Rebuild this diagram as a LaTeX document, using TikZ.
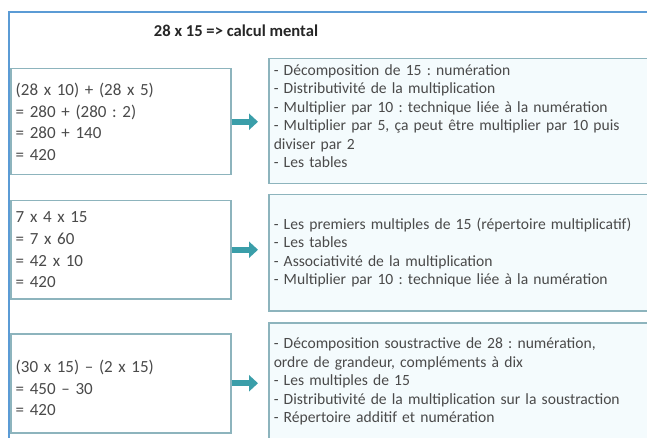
\documentclass[tikz,border=0pt]{standalone}
\usepackage{fontspec}
\setmainfont{Carlito}
\usetikzlibrary{arrows.meta}
\definecolor{frameblue}{HTML}{5B9BD5}
\definecolor{boxline}{HTML}{8DB4BD}
\definecolor{boxfill}{HTML}{F4FBFD}
\definecolor{arrowteal}{HTML}{3A9EA9}
\definecolor{txt}{HTML}{4A4A4A}
\frenchspacing
\tikzset{
  calcbox/.style={draw=boxline,line width=1.5pt,fill=white,anchor=north west,
    minimum width=220pt,text width=210pt,align=left,inner xsep=4pt,
    font=\fontsize{17}{21.7}\selectfont,text=txt},
  skillbox/.style={draw=boxline,line width=1.5pt,fill=boxfill,anchor=north west,
    minimum width=400pt,text width=390pt,align=left,inner xsep=4pt,
    font=\fontsize{15.6}{18.5}\selectfont,text=txt},
  fatarrow/.style={arrowteal,line width=6pt,shorten >=10pt,
    -{Triangle[length=9pt,width=16pt]}}
}
\begin{document}
\begin{tikzpicture}[x=1pt,y=-1pt]
\useasboundingbox (0,0) rectangle (647,438);
\draw[frameblue,line width=1.5pt] (9,440)--(9,12)--(650,12);
\node[font=\bfseries\fontsize{16.6}{19}\selectfont,text=black!85] (title) at (236,31) {28 x 15 => calcul mental};
% calculs
\node[calcbox,minimum height=106pt] (l1) at (10,68) {(28 x 10) + (28 x 5)\\= 280 + (280 : 2)\\= 280 + 140\\= 420};
\node[calcbox,minimum height=98pt] (l2) at (10,200) {7 x 4 x 15\\= 7 x 60\\= 42 x 10\\= 420};
\node[calcbox,minimum height=99pt] (l3) at (10,333) {\mbox{}\\(30 x 15) -- (2 x 15)\\= 450 -- 30\\= 420};
% competences
\node[skillbox,minimum height=125pt] (r1) at (268,58) {- Décomposition de 15 : numération\\- Distributivité de la multiplication\\- Multiplier par 10 : technique liée à la numération\\- Multiplier par 5, ça peut être multiplier par 10 puis\\diviser par 2\\- Les tables\\[-8pt]\mbox{}};
\node[skillbox,minimum height=116pt] (r2) at (268,194) {- Les premiers multiples de 15 (répertoire multiplicatif)\\- Les tables\\- Associativité de la multiplication\\- Multiplier par 10 : technique liée à la numération};
\node[skillbox,minimum height=118pt] (r3) at (268,322) {- Décomposition soustractive de 28 : numération,\\ordre de grandeur, compléments à dix\\- Les multiples de 15\\- Distributivité de la multiplication sur la soustraction\\- Répertoire additif et numération};
\foreach\i in{1,2,3}
  \draw[fatarrow](l\i.east)--(l\i-|r\i.west);
\end{tikzpicture}
\end{document}
